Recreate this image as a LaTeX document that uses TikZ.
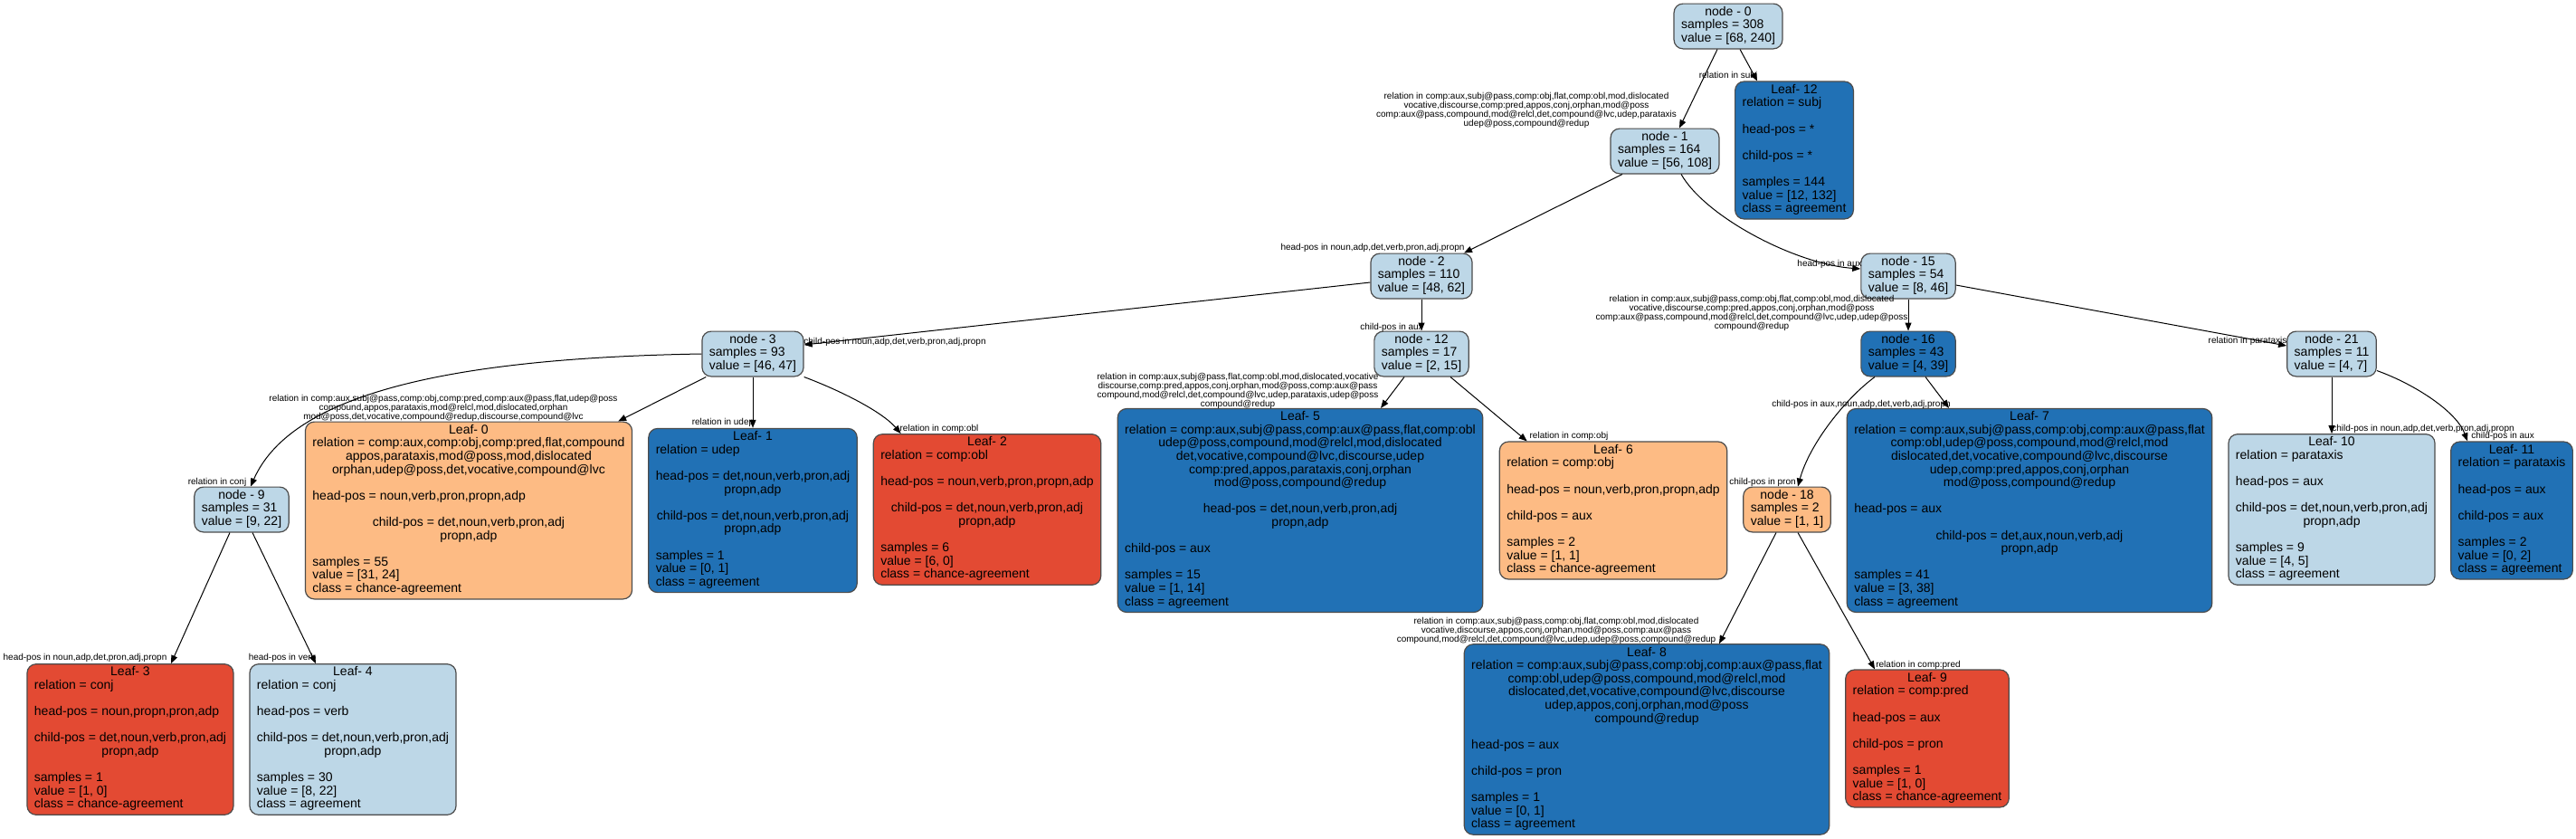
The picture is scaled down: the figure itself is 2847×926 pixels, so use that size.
\documentclass[tikz,border=0pt]{standalone}
\usepackage{fontspec}
\setmainfont{Liberation Sans}
\usetikzlibrary{arrows.meta,calc}

\definecolor{nodeblue}{HTML}{BDD7E7}
\definecolor{leafblue}{HTML}{2171B5}
\definecolor{leaforange}{HTML}{FDBB84}
\definecolor{leafred}{HTML}{E34A33}

\newcommand{\ctline}[1]{\multicolumn{1}{@{}c@{}}{#1}}
\newcommand{\splitnode}[3]{\begin{tabular}{@{}l@{}}\ctline{node - #1}\\samples = #2\\value = #3\end{tabular}}

\begin{document}
\begin{tikzpicture}[x=0.5pt, y=-0.5pt,
    treebox/.style={draw=black!70, line width=0.6pt, rounded corners=5pt,
        inner xsep=4pt, inner ysep=1.5pt, font=\fontsize{7}{7.3}\selectfont},
    branchlabel/.style={inner sep=0pt, align=center, font=\fontsize{5}{5}\selectfont},
    branch/.style={-{Triangle[length=4.5pt,width=3.5pt]}, line width=0.5pt}]

    \path[use as bounding box, fill=white] (0,0) rectangle (2847,926);

    % split nodes
    \node[treebox, fill=nodeblue] (n0) at (1910,29) {\splitnode{0}{308}{[68, 240]}};
    \node[treebox, fill=nodeblue] (n1) at (1840,167) {\splitnode{1}{164}{[56, 108]}};
    \node[treebox, fill=nodeblue] (n2) at (1571,305) {\splitnode{2}{110}{[48, 62]}};
    \node[treebox, fill=nodeblue] (n15) at (2109,305) {\splitnode{15}{54}{[8, 46]}};
    \node[treebox, fill=nodeblue] (n3) at (832,391) {\splitnode{3}{93}{[46, 47]}};
    \node[treebox, fill=nodeblue] (n12) at (1571,391) {\splitnode{12}{17}{[2, 15]}};
    \node[treebox, fill=leafblue] (n16) at (2109,391) {\splitnode{16}{43}{[4, 39]}};
    \node[treebox, fill=nodeblue] (n21) at (2577,391) {\splitnode{21}{11}{[4, 7]}};
    \node[treebox, fill=nodeblue] (n9) at (267,563) {\splitnode{9}{31}{[9, 22]}};
    \node[treebox, fill=leaforange] (n18) at (1975,563) {\splitnode{18}{2}{[1, 1]}};

    % leaves
    \node[treebox, fill=leafblue] (leaf12) at (1983,166) {\begin{tabular}{@{}l@{}}\ctline{Leaf- 12}\\
        relation = subj\\ \\ head-pos = *\\ \\ child-pos = *\\ \\
        samples = 144\\ value = [12, 132]\\ class = agreement\end{tabular}};
    \node[treebox, fill=leaforange] (leaf0) at (518,564) {\begin{tabular}{@{}l@{}}\ctline{Leaf- 0}\\
        \ctline{relation = comp:aux,comp:obj,comp:pred,flat,compound}\\
        \ctline{appos,parataxis,mod@poss,mod,dislocated}\\
        \ctline{orphan,udep@poss,det,vocative,compound@lvc}\\ \\
        head-pos = noun,verb,pron,propn,adp\\ \\
        \ctline{child-pos = det,noun,verb,pron,adj}\\ \ctline{propn,adp}\\ \\
        samples = 55\\ value = [31, 24]\\ class = chance-agreement\end{tabular}};
    \node[treebox, fill=leafblue] (leaf1) at (832,564) {\begin{tabular}{@{}l@{}}\ctline{Leaf- 1}\\
        relation = udep\\ \\
        \ctline{head-pos = det,noun,verb,pron,adj}\\ \ctline{propn,adp}\\ \\
        \ctline{child-pos = det,noun,verb,pron,adj}\\ \ctline{propn,adp}\\ \\
        samples = 1\\ value = [0, 1]\\ class = agreement\end{tabular}};
    \node[treebox, fill=leafred] (leaf2) at (1091,563) {\begin{tabular}{@{}l@{}}\ctline{Leaf- 2}\\
        relation = comp:obl\\ \\
        head-pos = noun,verb,pron,propn,adp\\ \\
        \ctline{child-pos = det,noun,verb,pron,adj}\\ \ctline{propn,adp}\\ \\
        samples = 6\\ value = [6, 0]\\ class = chance-agreement\end{tabular}};
    \node[treebox, fill=leafblue] (leaf5) at (1437,564) {\begin{tabular}{@{}l@{}}\ctline{Leaf- 5}\\
        \ctline{relation = comp:aux,subj@pass,comp:aux@pass,flat,comp:obl}\\
        \ctline{udep@poss,compound,mod@relcl,mod,dislocated}\\
        \ctline{det,vocative,compound@lvc,discourse,udep}\\
        \ctline{comp:pred,appos,parataxis,conj,orphan}\\
        \ctline{mod@poss,compound@redup}\\ \\
        \ctline{head-pos = det,noun,verb,pron,adj}\\ \ctline{propn,adp}\\ \\
        child-pos = aux\\ \\
        samples = 15\\ value = [1, 14]\\ class = agreement\end{tabular}};
    \node[treebox, fill=leaforange] (leaf6) at (1783,564) {\begin{tabular}{@{}l@{}}\ctline{Leaf- 6}\\
        relation = comp:obj\\ \\
        head-pos = noun,verb,pron,propn,adp\\ \\
        child-pos = aux\\ \\
        samples = 2\\ value = [1, 1]\\ class = chance-agreement\end{tabular}};
    \node[treebox, fill=leafblue] (leaf7) at (2243,564) {\begin{tabular}{@{}l@{}}\ctline{Leaf- 7}\\
        \ctline{relation = comp:aux,subj@pass,comp:obj,comp:aux@pass,flat}\\
        \ctline{comp:obl,udep@poss,compound,mod@relcl,mod}\\
        \ctline{dislocated,det,vocative,compound@lvc,discourse}\\
        \ctline{udep,comp:pred,appos,conj,orphan}\\
        \ctline{mod@poss,compound@redup}\\ \\
        head-pos = aux\\ \\
        \ctline{child-pos = det,aux,noun,verb,adj}\\ \ctline{propn,adp}\\ \\
        samples = 41\\ value = [3, 38]\\ class = agreement\end{tabular}};
    \node[treebox, fill=nodeblue] (leaf10) at (2577,563) {\begin{tabular}{@{}l@{}}\ctline{Leaf- 10}\\
        relation = parataxis\\ \\
        head-pos = aux\\ \\
        \ctline{child-pos = det,noun,verb,pron,adj}\\ \ctline{propn,adp}\\ \\
        samples = 9\\ value = [4, 5]\\ class = agreement\end{tabular}};
    \node[treebox, fill=leafblue] (leaf11) at (2776,564) {\begin{tabular}{@{}l@{}}\ctline{Leaf- 11}\\
        relation = parataxis\\ \\
        head-pos = aux\\ \\
        child-pos = aux\\ \\
        samples = 2\\ value = [0, 2]\\ class = agreement\end{tabular}};
    \node[treebox, fill=leafred] (leaf3) at (144,817) {\begin{tabular}{@{}l@{}}\ctline{Leaf- 3}\\
        relation = conj\\ \\
        head-pos = noun,propn,pron,adp\\ \\
        \ctline{child-pos = det,noun,verb,pron,adj}\\ \ctline{propn,adp}\\ \\
        samples = 1\\ value = [1, 0]\\ class = chance-agreement\end{tabular}};
    \node[treebox, fill=nodeblue] (leaf4) at (390,817) {\begin{tabular}{@{}l@{}}\ctline{Leaf- 4}\\
        relation = conj\\ \\
        head-pos = verb\\ \\
        \ctline{child-pos = det,noun,verb,pron,adj}\\ \ctline{propn,adp}\\ \\
        samples = 30\\ value = [8, 22]\\ class = agreement\end{tabular}};
    \node[treebox, fill=leafblue] (leaf8) at (1820,817) {\begin{tabular}{@{}l@{}}\ctline{Leaf- 8}\\
        \ctline{relation = comp:aux,subj@pass,comp:obj,comp:aux@pass,flat}\\
        \ctline{comp:obl,udep@poss,compound,mod@relcl,mod}\\
        \ctline{dislocated,det,vocative,compound@lvc,discourse}\\
        \ctline{udep,appos,conj,orphan,mod@poss}\\
        \ctline{compound@redup}\\ \\
        head-pos = aux\\ \\
        child-pos = pron\\ \\
        samples = 1\\ value = [0, 1]\\ class = agreement\end{tabular}};
    \node[treebox, fill=leafred] (leaf9) at (2130,816) {\begin{tabular}{@{}l@{}}\ctline{Leaf- 9}\\
        relation = comp:pred\\ \\
        head-pos = aux\\ \\
        child-pos = pron\\ \\
        samples = 1\\ value = [1, 0]\\ class = chance-agreement\end{tabular}};

    % branches
    \draw[branch] ($(n0.south)+(-12,0)$) -- ($(n1.north)+(16,0)$);
    \draw[branch] ($(n0.south)+(13,0)$) -- ($(leaf12.north)+(-41,0)$);
    \draw[branch] ($(n1.south)+(-47,0)$) -- ($(n2.north)+(47,0)$);
    \draw[branch] ($(n1.south)+(18,0)$) .. controls (1885,240) and (1985,292) .. ($(n15.west)+(0,-8)$);
    \draw[branch] ($(n2.west)+(0,7)$) -- ($(n3.east)+(0,-10)$);
    \draw[branch] (n2.south) -- (n12.north);
    \draw[branch] (n15.south) -- (n16.north);
    \draw[branch] ($(n15.east)+(0,10)$) -- ($(n21.west)+(0,-9)$);
    \draw[branch] (n3.west) .. controls (480,396) and (320,440) .. ($(n9.north)+(10,0)$);
    \draw[branch] ($(n3.south west)+(5,0)$) -- ($(leaf0.north east)+(-16,0)$);
    \draw[branch] (n3.south) -- (leaf1.north);
    \draw[branch] (n3.south east) .. controls (930,432) and (975,455) .. ($(leaf2.north west)+(31,0)$);
    \draw[branch] ($(n12.south)+(-19,0)$) -- ($(leaf5.north)+(89,0)$);
    \draw[branch] ($(n12.south)+(32,0)$) -- ($(leaf6.north west)+(31,0)$);
    \draw[branch] ($(n16.south)+(-37,0)$) .. controls (2040,440) and (2000,490) .. ($(n18.north)+(12,0)$);
    \draw[branch] ($(n16.south)+(19,0)$) -- ($(leaf7.north)+(-89,0)$);
    \draw[branch] (n21.south) -- (leaf10.north);
    \draw[branch] ($(n21.south east)+(0,-7)$) .. controls (2670,425) and (2715,455) .. ($(leaf11.north west)+(19,0)$);
    \draw[branch] ($(n9.south)+(-13,0)$) -- ($(leaf3.north)+(45,0)$);
    \draw[branch] ($(n9.south)+(12,0)$) -- ($(leaf4.north)+(-41,0)$);
    \draw[branch] ($(n18.south)+(-12,0)$) -- ($(leaf8.north)+(80,0)$);
    \draw[branch] ($(n18.south)+(12,0)$) -- ($(leaf9.north)+(-58,0)$);

    % branch labels
    \node[branchlabel] (l01) at (1687,122) {relation in comp:aux,subj@pass,comp:obj,flat,comp:obl,mod,dislocated\\
        vocative,discourse,comp:pred,appos,conj,orphan,mod@poss\\
        comp:aux@pass,compound,mod@relcl,det,compound@lvc,udep,parataxis\\
        udep@poss,compound@redup};
    \node[branchlabel] (l012) at (1910,84) {relation in subj};
    \node[branchlabel] (l12) at (1517,274) {head-pos in noun,adp,det,verb,pron,adj,propn};
    \node[branchlabel] (l115) at (2022,292) {head-pos in aux};
    \node[branchlabel] (l23) at (989,378) {child-pos in noun,adp,det,verb,pron,adj,propn};
    \node[branchlabel] (l212) at (1538,362) {child-pos in aux};
    \node[branchlabel] (l1516) at (1936,346) {relation in comp:aux,subj@pass,comp:obj,flat,comp:obl,mod,dislocated\\
        vocative,discourse,comp:pred,appos,conj,orphan,mod@poss\\
        comp:aux@pass,compound,mod@relcl,det,compound@lvc,udep,udep@poss\\
        compound@redup};
    \node[branchlabel] (l1521) at (2484,377) {relation in parataxis};
    \node[branchlabel] (l39) at (240,533) {relation in conj};
    \node[branchlabel] (l30) at (490,451) {relation in comp:aux,subj@pass,comp:obj,comp:pred,comp:aux@pass,flat,udep@poss\\
        compound,appos,parataxis,mod@relcl,mod,dislocated,orphan\\
        mod@poss,det,vocative,compound@redup,discourse,compound@lvc};
    \node[branchlabel] (l31) at (799,467) {relation in udep};
    \node[branchlabel] (l32) at (1038,474) {relation in comp:obl};
    \node[branchlabel] (l125) at (1368,432) {relation in comp:aux,subj@pass,flat,comp:obl,mod,dislocated,vocative\\
        discourse,comp:pred,appos,conj,orphan,mod@poss,comp:aux@pass\\
        compound,mod@relcl,det,compound@lvc,udep,parataxis,udep@poss\\
        compound@redup};
    \node[branchlabel] (l126) at (1734,482) {relation in comp:obj};
    \node[branchlabel] (l1618) at (1948,533) {child-pos in pron};
    \node[branchlabel] (l167) at (2057,447) {child-pos in aux,noun,adp,det,verb,adj,propn};
    \node[branchlabel] (l2110) at (2678,474) {child-pos in noun,adp,det,verb,pron,adj,propn};
    \node[branchlabel] (l2111) at (2766,482) {child-pos in aux};
    \node[branchlabel] (l93) at (94,727) {head-pos in noun,adp,det,pron,adj,propn};
    \node[branchlabel] (l94) at (312,727) {head-pos in verb};
    \node[branchlabel] (l188) at (1720,697) {relation in comp:aux,subj@pass,comp:obj,flat,comp:obl,mod,dislocated\\
        vocative,discourse,appos,conj,orphan,mod@poss,comp:aux@pass\\
        compound,mod@relcl,det,compound@lvc,udep,udep@poss,compound@redup};
    \node[branchlabel] (l189) at (2120,735) {relation in comp:pred};
\end{tikzpicture}
\end{document}
